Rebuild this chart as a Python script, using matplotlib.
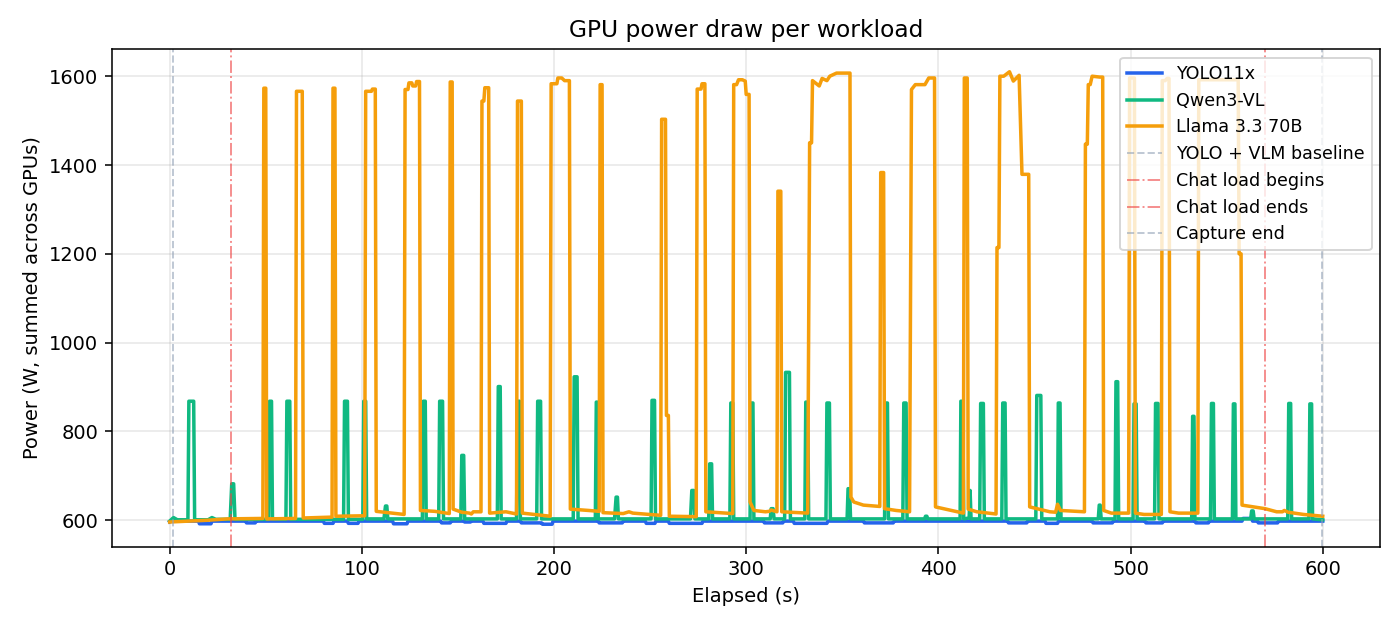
import matplotlib
matplotlib.use("Agg")
import matplotlib.pyplot as plt

# ---- data ----
yolo_t = [0, 2, 5, 15, 15.5, 21.5, 22, 39.5, 40, 44.5, 45, 80, 80.5, 85, 85.5, 92.5, 93, 98, 98.5,
          116, 116.5, 123.5, 124, 141, 141.5, 146, 146.5, 153, 153.5, 156.5, 157, 163, 163.5, 175, 175.5,
          182.5, 183, 193.5, 194, 199, 199.5, 223, 223.5, 235.5, 236, 247.5, 248, 252.5, 253, 259.5, 260,
          277, 277.5, 309, 309.5, 319, 319.5, 324.5, 325, 342, 342.5, 361, 361.5, 376.5, 377, 436, 436.5,
          446, 446.5, 455.5, 456, 462, 462.5, 480, 480.5, 490.5, 491, 507.5, 508, 516.5, 517, 533.5, 534,
          540.5, 541, 558, 558.5, 563, 563.5, 566, 566.5, 576.5, 577, 600]
yolo_w = [596, 600, 598, 598, 592, 592, 598, 598, 594, 594, 598, 598, 593, 593, 598, 598, 593, 593, 598,
          598, 592, 592, 598, 598, 594, 594, 598, 598, 596, 596, 598, 598, 593, 593, 598,
          598, 594, 594, 591, 591, 598, 598, 594, 594, 598, 598, 593, 593, 598, 598, 593,
          593, 598, 598, 594, 594, 598, 598, 593, 593, 598, 598, 594, 594, 598, 598, 594,
          594, 598, 598, 593, 593, 598, 598, 594, 594, 598, 598, 594, 594, 598, 598, 594,
          594, 598, 598, 604, 604, 598, 598, 594, 594, 598, 598]

qwen_t = [0, 2, 4, 9.5, 10, 12.5, 13, 20, 22, 24, 31.5, 32.3, 33.3, 34, 51.5, 52, 53, 53.5, 60.5, 61, 62.5, 63,
          90.5, 91, 92.5, 93, 100.5, 101, 102, 102.5, 111.5, 112.3, 113, 113.5, 131.5, 132, 133, 133.5,
          140, 140.5, 142, 142.5, 151.5, 152, 153, 153.5, 170.5, 171, 172, 172.5, 180.5, 181, 182, 182.5,
          191, 191.5, 193, 193.5, 210, 210.5, 212, 212.5, 221.5, 222, 222.5, 223, 231.5, 232.3, 233, 233.5,
          250.5, 251, 252.3, 252.8, 271, 271.7, 272.7, 273.3, 280.5, 281, 282, 282.5, 291.5, 292, 293, 293.5,
          302, 302.5, 303.5, 304, 312.5, 313, 314, 314.5, 320, 320.5, 322.5, 323, 330.5, 331, 332, 332.5,
          341.5, 342, 343.3, 343.8, 352.5, 353, 353.8, 354.3, 372, 372.5, 373.5, 374, 381.5, 382, 383.2, 383.7,
          392.8, 393.3, 394, 394.5, 411.3, 411.7, 412.7, 413.2, 416, 416.5, 417, 421.5, 422, 423.4, 423.9,
          433, 433.5, 434.7, 435.2, 450.7, 451.2, 453.3, 453.8, 462, 462.4, 463.3, 463.8, 483.2, 483.7, 484.2, 484.7,
          491.9, 492.4, 493.3, 493.8, 501.3, 501.8, 502.9, 503.4, 512.5, 513, 514.3, 514.8, 531.8, 532.3, 533, 533.5,
          541.6, 542.1, 543.1, 543.6, 553, 553.5, 554.3, 554.8, 562.5, 563, 563.8, 564.3, 581.8, 582.3, 583.3, 583.8,
          592.8, 593.3, 594.2, 594.7, 600]
qwen_w = [598, 606, 601, 601, 868, 868, 601, 601, 606, 602, 602, 682, 682, 602, 602, 868, 868, 603, 602, 868, 868, 602,
          602, 868, 868, 602, 602, 868, 868, 603, 603, 632, 632, 603, 603, 868, 868, 603,
          603, 868, 868, 603, 603, 746, 746, 603, 603, 901, 901, 603, 603, 868, 868, 603,
          603, 868, 868, 603, 603, 923, 923, 603, 603, 866, 866, 603, 603, 652, 652, 603,
          603, 870, 870, 603, 603, 667, 667, 603, 603, 727, 727, 603, 603, 864, 864, 603,
          603, 864, 864, 603, 603, 626, 626, 603, 603, 933, 933, 603, 603, 866, 866, 603,
          603, 864, 864, 603, 603, 671, 671, 603, 603, 864, 864, 603, 603, 864, 864, 603,
          603, 609, 609, 603, 603, 868, 868, 603, 605, 667, 603, 603, 863, 863, 603,
          603, 864, 864, 603, 603, 881, 881, 603, 603, 864, 864, 603, 603, 634, 634, 603,
          603, 912, 912, 603, 603, 862, 862, 603, 603, 863, 863, 603, 603, 834, 834, 603,
          603, 863, 863, 603, 603, 862, 862, 603, 603, 621, 621, 603, 603, 863, 863, 603,
          603, 862, 862, 603, 601]

llama_t = [0, 10, 20, 30, 48.5, 49, 50, 50.5, 65.5, 66, 69, 69.5, 84.5, 85, 86, 86.5,
           101.5, 102, 105, 105.5, 107, 107.5, 122, 122.5, 124, 124.5, 126, 126.5, 128, 128.5, 130, 130.5,
           138, 145.5, 146, 147, 147.5, 152, 156, 157, 158, 162, 162.5, 163.5, 164, 166, 166.5,
           175, 180.5, 181, 183, 183.5, 198, 198.5, 201.5, 202, 204, 205.5, 208, 208.5,
           218, 223.5, 224, 225, 225.5, 236, 239, 241, 255.5, 256, 258, 258.5, 259.5, 260,
           274, 274.5, 276.5, 277, 278.5, 279, 293, 293.5, 295, 296, 298, 299.5, 300, 301.5, 302,
           304, 310, 312, 313, 316, 316.5, 318, 318.5, 332, 333, 334, 334.5, 336.5, 338, 339.5, 342, 343.5,
           347, 354, 354.5, 356, 361, 369.5, 370, 371.5, 372, 378, 385, 386, 388, 393, 395, 398, 398.5,
           413, 413.5, 415, 415.5, 420, 430, 430.5, 431.5, 432, 434, 437, 439, 442, 443.5, 447, 447.5,
           458, 461, 462, 463.5, 476, 476.5, 477.5, 478, 479, 480, 484, 485.5, 486, 490, 499, 499.5, 502, 502.5,
           507, 516, 516.5, 518, 519, 520, 520.5, 525, 535, 535.5, 556, 556.5, 557.5, 558,
           570, 576, 579, 580, 582, 590, 600]
llama_w = [596, 598, 600, 603, 604, 1573, 1573, 603, 604, 1566, 1566, 605, 607, 1573, 1573, 609,
           610, 1566, 1566, 1571, 1571, 620, 613, 1570, 1570, 1585, 1585, 1578, 1578, 1588, 1588, 622,
           620, 615, 1587, 1587, 625, 618, 616, 614, 619, 619, 1544, 1544, 1574, 1574, 616,
           619, 614, 1544, 1544, 616, 609, 1583, 1583, 1596, 1596, 1590, 1590, 625,
           622, 620, 1581, 1581, 617, 615, 619, 616, 611, 1503, 1503, 836, 836, 609,
           608, 1571, 1571, 1583, 1583, 619, 615, 1581, 1581, 1592, 1592, 1589, 1559, 1559, 641,
           622, 619, 620, 623, 619, 1341, 1341, 619, 616, 1450, 1450, 1590, 1583, 1578, 1595, 1590, 1600,
           1607, 1607, 652, 641, 634, 631, 1383, 1383, 626, 622, 619, 1570, 1581, 1581, 1596, 1596, 630,
           616, 1596, 1596, 625, 619, 614, 1214, 1214, 1600, 1600, 1610, 1589, 1602, 1379, 1379, 630,
           619, 618, 636, 622, 619, 1447, 1447, 1581, 1581, 1600, 1598, 1598, 622, 616, 616, 1596, 1596, 616,
           613, 613, 1590, 1590, 1595, 1595, 619, 616, 616, 1592, 1592, 1200, 1200, 634,
           626, 619, 619, 622, 618, 613, 609]

series_names = ["YOLO11x", "Qwen3-VL", "Llama 3.3 70B"]
series_colors = ["#2563eb", "#10b981", "#f59e0b"]

marker_labels = ["YOLO + VLM baseline", "Chat load begins", "Chat load ends", "Capture end"]
marker_times = [1.8, 32.0, 570.0, 599.5]
marker_colors = ["#94a3b8", "#ef4444", "#ef4444", "#94a3b8"]
marker_styles = ["--", "-.", "-.", "--"]

# ---- plot ----
fig, ax = plt.subplots(figsize=(10, 4.5), dpi=140)
fig.subplots_adjust(left=0.080, right=0.986, top=0.922, bottom=0.132)

for t, w, name, c in zip([yolo_t, qwen_t, llama_t], [yolo_w, qwen_w, llama_w],
                         series_names, series_colors):
    ax.plot(t, w, color=c, lw=1.8, label=name)

for x, lab, c, ls in zip(marker_times, marker_labels, marker_colors, marker_styles):
    ax.axvline(x, color=c, ls=ls, lw=1.0, alpha=0.6, label=lab)

ax.set_title("GPU power draw per workload", fontsize=12)
ax.set_xlabel("Elapsed (s)", fontsize=10)
ax.set_ylabel("Power (W, summed across GPUs)", fontsize=10)
ax.grid(True, alpha=0.3)
ax.legend(loc="upper right", fontsize=9)

fig.savefig("out.png", dpi=140)
